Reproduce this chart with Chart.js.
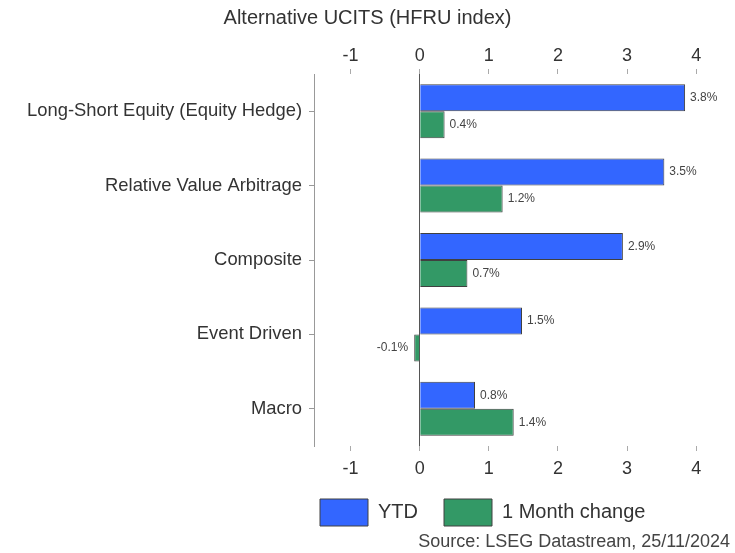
<!DOCTYPE html>
<html lang="en">
<head>
  <meta charset="UTF-8" />
  <title>Alternative UCITS (HFRU index)</title>
  <script src="https://cdn.jsdelivr.net/npm/chart.js"></script>
  <style>
    body {
      margin: 0;
      background: white;
    }
    canvas {
      display: block;
    }
  </style>
</head>
<body>

  <canvas id="hfruChart" width="735" height="553"></canvas>

  <script>
    // data
    const categories = [
      "Long-Short Equity (Equity Hedge)",
      "Relative Value Arbitrage",
      "Composite",
      "Event Driven",
      "Macro"
    ];
    const ytd = [3.84, 3.54, 2.94, 1.48, 0.80];
    const oneMonth = [0.36, 1.20, 0.69, -0.08, 1.36];
    const seriesNames = ["YTD", "1 Month change"];
    const xMin = -1.53;
    const xMax = 4.49;

    const FONT = '"Liberation Sans", Arial, sans-serif';
    const TEXT = "#333";

    // value labels next to each bar end
    const valueLabels = {
      id: "valueLabels",
      afterDatasetsDraw(chart) {
        const ctx = chart.ctx;
        ctx.save();
        ctx.font = "12px " + FONT;
        ctx.fillStyle = "#444";
        ctx.textBaseline = "middle";
        chart.data.datasets.forEach((ds, i) => {
          chart.getDatasetMeta(i).data.forEach((bar, j) => {
            const v = ds.data[j];
            const txt = v.toFixed(1) + "%";
            if (v < 0) {
              ctx.textAlign = "right";
              ctx.fillText(txt, bar.x - 6, bar.y);
            } else {
              ctx.textAlign = "left";
              ctx.fillText(txt, bar.x + 5, bar.y);
            }
          });
        });
        ctx.restore();
      }
    };

    // move the legend under the plot like in the original
    const placeLegend = {
      id: "placeLegend",
      afterLayout(chart) {
        const lg = chart.legend;
        lg.left = chart.chartArea.left - 20;
        lg.top -= 14;
        lg.bottom -= 14;
      }
    };

    // source note, bottom right
    const sourceNote = {
      id: "sourceNote",
      afterDraw(chart) {
        const ctx = chart.ctx;
        ctx.save();
        ctx.font = "18px " + FONT;
        ctx.fillStyle = "#444";
        ctx.textAlign = "right";
        ctx.textBaseline = "middle";
        ctx.fillText("Source: LSEG Datastream, 25/11/2024", 730, 542);
        ctx.restore();
      }
    };

    const tickFont = { family: FONT, size: 18, lineHeight: 1 };

    new Chart(document.getElementById("hfruChart"), {
      type: "bar",
      data: {
        labels: categories,
        datasets: [
          {
            label: seriesNames[0],
            data: ytd,
            backgroundColor: "#3366ff",
            borderColor: "#404040",
            borderWidth: 1,
            categoryPercentage: 0.726,
            barPercentage: 1
          },
          {
            label: seriesNames[1],
            data: oneMonth,
            backgroundColor: "#339966",
            borderColor: "#404040",
            borderWidth: 1,
            categoryPercentage: 0.726,
            barPercentage: 1
          }
        ]
      },
      options: {
        indexAxis: "y",
        responsive: false,
        animation: false,
        layout: {
          padding: { left: 5, right: 5, top: 0, bottom: 3 }
        },
        scales: {
          x: {
            type: "linear",
            position: "bottom",
            min: xMin,
            max: xMax,
            ticks: {
              stepSize: 1,
              includeBounds: false,
              color: TEXT,
              font: tickFont,
              padding: 9
            },
            grid: {
              color: c => (c.tick && c.tick.value === 0 ? "#555" : "rgba(0,0,0,0)"),
              tickColor: "#aaa",
              tickLength: 5
            },
            border: { display: false }
          },
          x2: {
            type: "linear",
            position: "top",
            min: xMin,
            max: xMax,
            ticks: {
              stepSize: 1,
              includeBounds: false,
              color: TEXT,
              font: tickFont,
              padding: 3.5
            },
            grid: {
              drawOnChartArea: false,
              tickColor: "#aaa",
              tickLength: 5
            },
            border: { display: false }
          },
          y: {
            afterFit: s => { s.width = 309; },
            ticks: {
              color: TEXT,
              font: { family: FONT, size: 18.4 },
              padding: 7
            },
            grid: {
              drawOnChartArea: false,
              offset: false,
              tickColor: "#999",
              tickLength: 5
            },
            border: { color: "#999", width: 1 }
          }
        },
        plugins: {
          title: {
            display: true,
            text: "Alternative UCITS (HFRU index)",
            color: TEXT,
            font: { family: FONT, size: 20, weight: "normal" },
            padding: { top: 6, bottom: 14 }
          },
          legend: {
            position: "bottom",
            align: "start",
            labels: {
              boxWidth: 48,
              boxHeight: 27,
              padding: 26,
              color: TEXT,
              font: { family: FONT, size: 20 }
            }
          },
          tooltip: { enabled: false }
        }
      },
      plugins: [valueLabels, placeLegend, sourceNote]
    });
  </script>

</body>
</html>
